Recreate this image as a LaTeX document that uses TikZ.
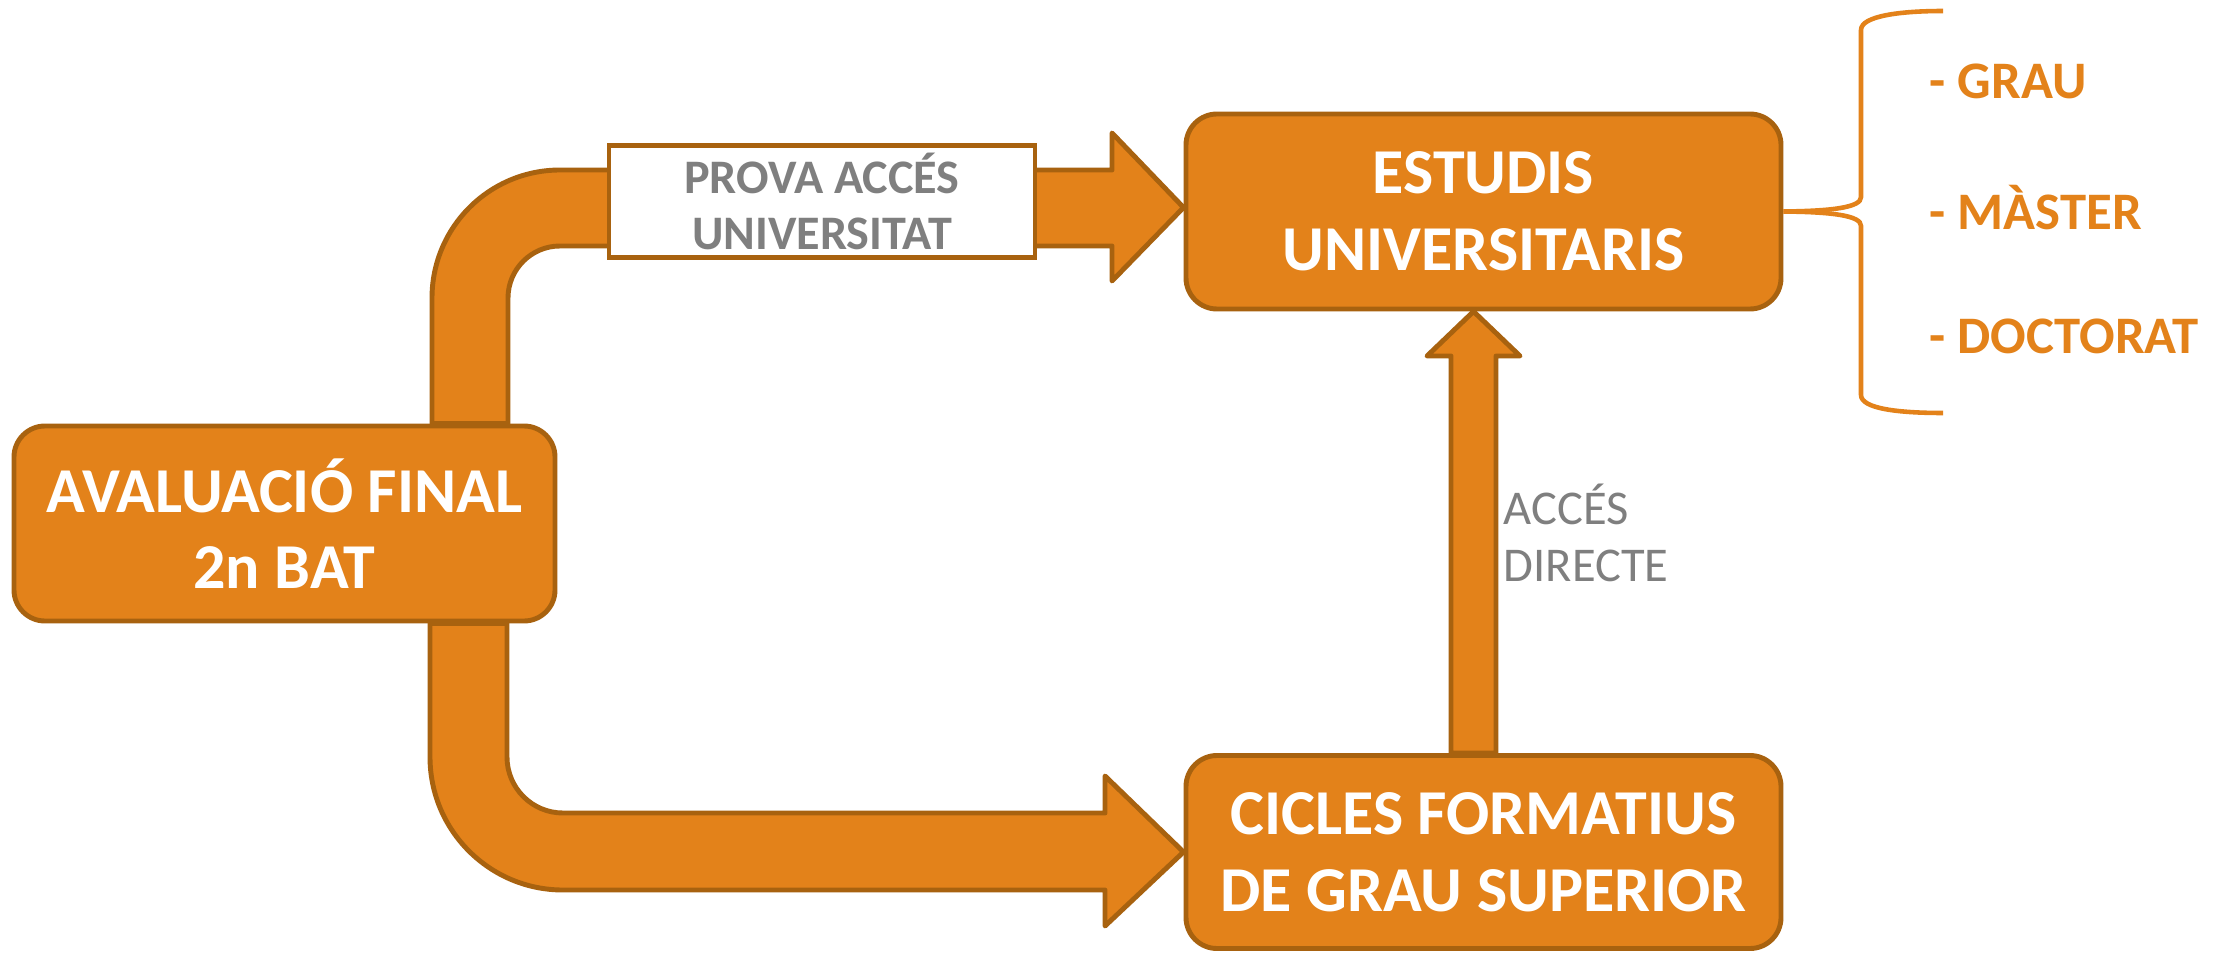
\documentclass[tikz,border=0pt]{standalone}
\usepackage{fontspec}
\setmainfont{Carlito}
\usetikzlibrary{positioning,calc,backgrounds}

\definecolor{taronja}{HTML}{E3821A}
\definecolor{vora}{HTML}{A8620F}
\definecolor{gris}{HTML}{7F7F7F}

\tikzset{
  caixa/.style={rounded corners=0.31cm, fill=taronja, draw=vora, line width=1.4pt,
    minimum width=5.95cm, minimum height=1.95cm, inner sep=0pt, align=center,
    text=white, font=\fontsize{18.2}{21.8}\selectfont\bfseries},
  fletxa/.style={fill=taronja, draw=vora, line width=1.4pt, line join=round},
  rotul/.style={text=gris, inner sep=0pt},
  claudator/.style={draw=taronja, line width=1.3pt},
  opcio/.style={text=taronja, anchor=west, inner sep=0pt, font=\fontsize{15}{18}\selectfont\bfseries}
}

\begin{document}
\begin{tikzpicture}
\useasboundingbox (0,0) rectangle (22.32,9.52);

% Boxes
\node[caixa, minimum width=5.41cm] (avalua) at (2.845,4.285) {AVALUACIÓ FINAL\\2n BAT};
\node[caixa] (estudis) at (14.835,7.405) {ESTUDIS\\UNIVERSITARIS};
\node[caixa, minimum height=1.93cm] (cicles) at (14.835,1.0) {CICLES FORMATIUS\\DE GRAU SUPERIOR};

% Arrows
\begin{scope}[on background layer]
% Background
\fill[white] (0,0) rectangle (22.32,9.52);
\draw[fletxa] ($(avalua.north)+(1.475,0)$) -- (4.32,6.54) arc[start angle=180, end angle=90, radius=1.28]
  -- (11.12,7.82) -- (11.12,8.19) -- ($(estudis.west)+(0,0.04)$) -- (11.12,6.71) -- (11.12,7.06)
  -- (5.60,7.06) arc[start angle=90, end angle=180, radius=0.52] -- ($(avalua.north)+(2.235,0)$) -- cycle;
\draw[fletxa] ($(avalua.south)+(1.455,0)$) -- (4.30,1.95) arc[start angle=180, end angle=270, radius=1.33]
  -- (11.05,0.62) -- (11.05,0.26) -- (cicles.west) -- (11.05,1.76) -- (11.05,1.39)
  -- (5.63,1.39) arc[start angle=270, end angle=180, radius=0.56] -- ($(avalua.south)+(2.225,0)$) -- cycle;
\draw[fletxa] ($(cicles.north)+(-0.325,0)$) -- (14.51,5.96) -- (14.27,5.96) -- ($(estudis.south)+(-0.1,0)$)
  -- (15.20,5.96) -- (14.96,5.96) -- ($(cicles.north)+(0.125,0)$) -- cycle;
\end{scope}

% Labels
\node[rotul, draw=vora, fill=white, line width=1.4pt, minimum width=4.26cm, minimum height=1.12cm,
  align=center, font=\fontsize{13.7}{16}\selectfont\bfseries] (prova) at (8.22,7.505) {PROVA ACCÉS\\UNIVERSITAT};
\node[rotul, anchor=west, align=left, font=\fontsize{13.8}{16.2}\selectfont] (directe) at (15.03,4.19) {ACCÉS\\DIRECTE};

% Brace
\draw[claudator] (estudis.east) .. controls (18.35,7.41) and (18.61,7.45) .. (18.61,7.55)
  -- (18.61,9.22) .. controls (18.61,9.36) and (19.0,9.41) .. (19.43,9.41);
\draw[claudator] (estudis.east) .. controls (18.35,7.40) and (18.61,7.36) .. (18.61,7.26)
  -- (18.61,5.57) .. controls (18.61,5.43) and (19.0,5.39) .. (19.43,5.39);

% Options
\node[opcio] (grau) at (19.29,8.71) {- GRAU};
\node[opcio] (master) at (19.29,7.44) {- MÀSTER};
\node[opcio] (doctorat) at (19.29,6.16) {- DOCTORAT};
\end{tikzpicture}
\end{document}
